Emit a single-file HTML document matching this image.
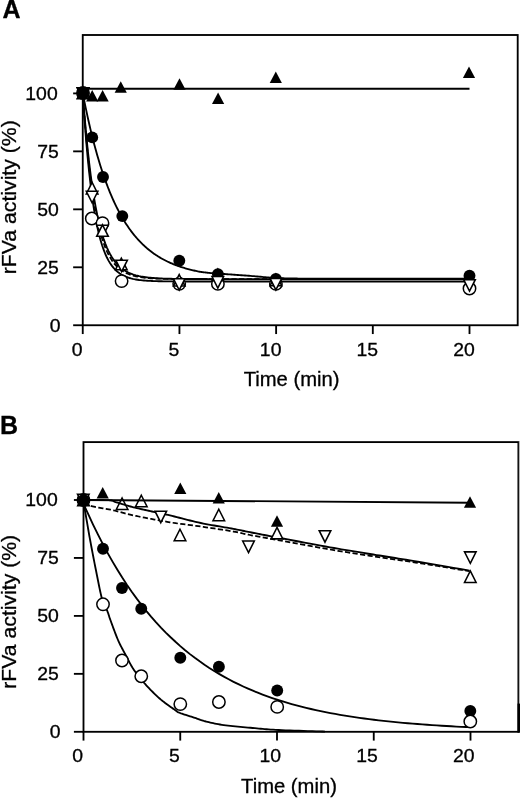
<!DOCTYPE html>
<html><head><meta charset="utf-8"><title>Figure</title>
<style>
html,body{margin:0;padding:0;background:#fff;}
body{width:520px;height:798px;overflow:hidden;}
svg{display:block;font-family:"Liberation Sans",sans-serif;fill:#000;filter:grayscale(1);}
text{stroke:#000;stroke-width:0.3px;}
</style></head><body>
<svg width="520" height="798" viewBox="0 0 520 798">
<rect width="520" height="798" fill="#fff"/>
<path d="M82.75,88.71 L84.36,88.71 L85.97,88.71 L87.58,88.71 L89.20,88.71 L90.81,88.71 L92.42,88.71 L94.03,88.71 L95.64,88.71 L97.25,88.71 L98.86,88.71 L100.48,88.71 L102.09,88.71 L103.70,88.71 L105.31,88.71 L106.92,88.71 L108.53,88.71 L110.14,88.71 L111.76,88.71 L113.37,88.71 L114.98,88.71 L116.59,88.71 L118.20,88.71 L119.81,88.71 L121.42,88.71 L123.04,88.71 L124.65,88.71 L126.26,88.71 L127.87,88.71 L129.48,88.71 L131.09,88.71 L132.71,88.71 L134.32,88.71 L135.93,88.71 L137.54,88.71 L139.15,88.71 L140.76,88.71 L142.37,88.71 L143.99,88.71 L145.60,88.71 L147.21,88.71 L148.82,88.71 L150.43,88.71 L152.04,88.71 L153.65,88.71 L155.27,88.71 L156.88,88.71 L158.49,88.71 L160.10,88.71 L161.71,88.71 L163.32,88.71 L164.93,88.71 L166.55,88.71 L168.16,88.71 L169.77,88.71 L171.38,88.71 L172.99,88.71 L174.60,88.71 L176.21,88.71 L177.83,88.71 L179.44,88.71 L181.05,88.71 L182.66,88.71 L184.27,88.71 L185.88,88.71 L187.49,88.71 L189.11,88.71 L190.72,88.71 L192.33,88.71 L193.94,88.71 L195.55,88.71 L197.16,88.71 L198.77,88.71 L200.39,88.71 L202.00,88.71 L203.61,88.71 L205.22,88.71 L206.83,88.71 L208.44,88.71 L210.06,88.71 L211.67,88.71 L213.28,88.71 L214.89,88.71 L216.50,88.71 L218.11,88.71 L219.72,88.71 L221.34,88.71 L222.95,88.71 L224.56,88.71 L226.17,88.71 L227.78,88.71 L229.39,88.71 L231.00,88.71 L232.62,88.71 L234.23,88.71 L235.84,88.71 L237.45,88.71 L239.06,88.71 L240.67,88.71 L242.28,88.71 L243.90,88.71 L245.51,88.71 L247.12,88.71 L248.73,88.71 L250.34,88.71 L251.95,88.71 L253.56,88.71 L255.18,88.71 L256.79,88.71 L258.40,88.71 L260.01,88.71 L261.62,88.71 L263.23,88.71 L264.84,88.71 L266.46,88.71 L268.07,88.71 L269.68,88.71 L271.29,88.71 L272.90,88.71 L274.51,88.71 L276.12,88.71 L277.74,88.71 L279.35,88.71 L280.96,88.71 L282.57,88.71 L284.18,88.71 L285.79,88.71 L287.41,88.71 L289.02,88.71 L290.63,88.71 L292.24,88.71 L293.85,88.71 L295.46,88.71 L297.07,88.71 L298.69,88.71 L300.30,88.71 L301.91,88.71 L303.52,88.71 L305.13,88.71 L306.74,88.71 L308.35,88.71 L309.97,88.71 L311.58,88.71 L313.19,88.71 L314.80,88.71 L316.41,88.71 L318.02,88.71 L319.63,88.71 L321.25,88.71 L322.86,88.71 L324.47,88.71 L326.08,88.71 L327.69,88.71 L329.30,88.71 L330.91,88.71 L332.53,88.71 L334.14,88.71 L335.75,88.71 L337.36,88.71 L338.97,88.71 L340.58,88.71 L342.19,88.71 L343.81,88.71 L345.42,88.71 L347.03,88.71 L348.64,88.71 L350.25,88.71 L351.86,88.71 L353.47,88.71 L355.09,88.71 L356.70,88.71 L358.31,88.71 L359.92,88.71 L361.53,88.71 L363.14,88.71 L364.76,88.71 L366.37,88.71 L367.98,88.71 L369.59,88.71 L371.20,88.71 L372.81,88.71 L374.42,88.71 L376.04,88.71 L377.65,88.71 L379.26,88.71 L380.87,88.71 L382.48,88.71 L384.09,88.71 L385.70,88.71 L387.32,88.71 L388.93,88.71 L390.54,88.71 L392.15,88.71 L393.76,88.71 L395.37,88.71 L396.98,88.71 L398.60,88.71 L400.21,88.71 L401.82,88.71 L403.43,88.71 L405.04,88.71 L406.65,88.71 L408.26,88.71 L409.88,88.71 L411.49,88.71 L413.10,88.71 L414.71,88.71 L416.32,88.71 L417.93,88.71 L419.54,88.71 L421.16,88.71 L422.77,88.71 L424.38,88.71 L425.99,88.71 L427.60,88.71 L429.21,88.71 L430.82,88.71 L432.44,88.71 L434.05,88.71 L435.66,88.71 L437.27,88.71 L438.88,88.71 L440.49,88.71 L442.11,88.71 L443.72,88.71 L445.33,88.71 L446.94,88.71 L448.55,88.71 L450.16,88.71 L451.77,88.71 L453.39,88.71 L455.00,88.71 L456.61,88.71 L458.22,88.71 L459.83,88.71 L461.44,88.71 L463.05,88.71 L464.67,88.71 L466.28,88.71 L467.89,88.71 L469.50,88.71" fill="none" stroke="#000" stroke-width="1.85" stroke-linejoin="round"/>
<path d="M82.75,93.00 L83.72,97.99 L84.68,102.84 L85.65,107.57 L86.62,112.17 L87.58,116.64 L88.55,120.99 L89.52,125.23 L90.48,129.35 L91.45,133.37 L92.42,137.27 L93.39,141.07 L94.35,144.77 L95.32,148.36 L96.29,151.87 L97.25,155.27 L98.22,158.59 L99.19,161.81 L100.15,164.95 L101.12,168.01 L102.09,170.98 L103.05,173.87 L104.02,176.69 L104.99,179.43 L105.95,182.10 L106.92,184.69 L107.89,187.21 L108.86,189.67 L109.82,192.06 L110.79,194.39 L111.76,196.65 L112.72,198.85 L113.69,201.00 L114.66,203.08 L115.62,205.11 L116.59,207.09 L117.56,209.01 L118.52,210.88 L119.49,212.70 L120.46,214.47 L121.42,216.20 L122.39,217.88 L123.36,219.51 L124.33,221.10 L125.29,222.64 L126.26,224.15 L127.23,225.61 L128.19,227.03 L129.16,228.42 L130.13,229.77 L131.09,231.08 L132.06,232.36 L133.03,233.60 L133.99,234.81 L134.96,235.99 L135.93,237.14 L136.90,238.25 L137.86,239.33 L138.83,240.39 L139.80,241.42 L140.76,242.42 L141.73,243.39 L142.70,244.34 L143.66,245.26 L144.63,246.15 L145.60,247.03 L146.56,247.87 L147.53,248.70 L148.50,249.50 L149.46,250.29 L150.43,251.05 L151.40,251.79 L152.37,252.51 L153.33,253.21 L154.30,253.89 L155.27,254.56 L156.23,255.20 L157.20,255.83 L158.17,256.44 L159.13,257.04 L160.10,257.62 L161.07,258.18 L162.03,258.73 L163.00,259.27 L163.97,259.79 L164.93,260.29 L165.90,260.78 L166.87,261.26 L167.83,261.73 L168.80,262.18 L169.77,262.62 L170.74,263.05 L171.70,263.47 L172.67,263.88 L173.64,264.27 L174.60,264.66 L175.57,265.03 L176.54,265.40 L177.50,265.75 L178.47,266.10 L179.44,266.43 L180.40,266.76 L181.37,267.08 L182.34,267.39 L183.31,267.69 L184.27,267.98 L185.24,268.27 L186.21,268.55 L187.17,268.82 L188.14,269.08 L189.11,269.34 L190.07,269.59 L191.04,269.83 L192.01,270.06 L192.97,270.29 L193.94,270.52 L194.91,270.73 L195.87,270.95 L196.84,271.15 L197.81,271.35 L198.77,271.55 L199.74,271.74 L200.71,271.92 L201.16,271.97 L201.74,272.04 L202.41,272.13 L203.17,272.22 L203.99,272.32 L204.86,272.42 L205.76,272.53 L206.66,272.64 L207.56,272.74 L208.42,272.84 L209.24,272.92 L210.00,273.00 L210.68,273.07 L211.32,273.12 L211.91,273.17 L212.47,273.22 L213.03,273.26 L213.59,273.30 L214.18,273.35 L214.79,273.39 L215.46,273.43 L216.19,273.48 L217.00,273.54 L217.90,273.60 L218.88,273.67 L219.92,273.74 L221.01,273.81 L222.15,273.88 L223.34,273.96 L224.57,274.04 L225.86,274.12 L227.19,274.21 L228.55,274.30 L229.96,274.39 L231.41,274.49 L232.90,274.60 L234.45,274.71 L236.09,274.83 L237.80,274.96 L239.56,275.09 L241.37,275.22 L243.20,275.36 L245.05,275.50 L246.90,275.64 L248.73,275.79 L250.53,275.93 L252.30,276.06 L254.00,276.20 L255.66,276.34 L257.31,276.48 L258.94,276.62 L260.56,276.77 L262.17,276.92 L263.76,277.06 L265.33,277.20 L266.89,277.34 L268.44,277.47 L269.97,277.59 L271.49,277.70 L273.00,277.80 L274.45,277.89 L275.80,277.96 L277.09,278.03 L278.33,278.09 L279.57,278.14 L280.81,278.19 L282.10,278.23 L283.44,278.27 L284.88,278.30 L286.44,278.33 L288.13,278.37 L290.00,278.40 L291.66,278.43 L292.86,278.46 L293.79,278.48 L294.61,278.50 L295.53,278.52 L296.72,278.54 L298.37,278.55 L300.67,278.56 L303.79,278.57 L307.93,278.58 L313.27,278.59 L320.00,278.60 L328.75,278.61 L339.73,278.61 L352.48,278.61 L366.52,278.61 L381.39,278.61 L396.62,278.61 L411.76,278.61 L426.31,278.61 L439.84,278.60 L451.85,278.60 L461.90,278.60 L469.50,278.60" fill="none" stroke="#000" stroke-width="1.85" stroke-linejoin="round"/>
<path d="M82.75,93.00 L84.36,113.76 L85.97,132.21 L87.58,148.60 L89.20,163.16 L90.81,176.10 L92.42,187.59 L94.03,197.80 L95.64,206.87 L97.25,214.92 L98.86,222.08 L100.48,228.44 L102.09,234.09 L103.70,239.11 L105.31,243.57 L106.92,247.53 L108.53,251.05 L110.14,254.18 L111.76,256.95 L113.37,259.42 L114.98,261.61 L116.59,263.56 L118.20,265.29 L119.81,266.83 L121.42,268.19 L123.04,269.41 L124.65,270.48 L126.26,271.44 L127.87,272.29 L129.48,273.05 L131.09,273.72 L132.71,274.32 L134.32,274.85 L135.93,275.32 L137.54,275.73 L139.15,276.11 L140.76,276.44 L142.37,276.73 L143.99,276.99 L145.60,277.22 L147.21,277.43 L148.82,277.61 L150.43,277.77 L152.04,277.92 L153.65,278.04 L155.27,278.16 L156.88,278.26 L158.49,278.35 L160.10,278.43 L161.71,278.50 L163.32,278.56 L164.93,278.62 L166.55,278.67 L168.16,278.71 L169.77,278.75 L171.38,278.79 L172.99,278.82 L174.60,278.85 L176.21,278.87 L177.83,278.89 L179.44,278.91 L181.05,278.93 L182.66,278.94 L184.27,278.96 L185.88,278.97 L187.49,278.98 L189.11,278.99 L190.72,279.00 L192.33,279.00 L193.94,279.01 L195.55,279.02 L197.16,279.02 L198.77,279.03 L200.39,279.03 L202.00,279.03 L203.61,279.04 L205.22,279.04 L206.83,279.04 L208.44,279.05 L210.06,279.05 L211.67,279.05 L213.28,279.05 L214.89,279.05 L216.50,279.05 L218.11,279.06 L219.72,279.06 L221.34,279.06 L222.95,279.06 L224.56,279.06 L226.17,279.06 L227.78,279.06 L229.39,279.06 L231.00,279.06 L232.62,279.06 L234.23,279.06 L235.84,279.06 L237.45,279.06 L239.06,279.06 L240.67,279.06 L242.28,279.06 L243.90,279.06 L245.51,279.06 L247.12,279.06 L248.73,279.06 L250.34,279.06 L251.95,279.06 L253.56,279.06 L255.18,279.06 L256.79,279.06 L258.40,279.06 L260.01,279.06 L261.62,279.06 L263.23,279.06 L264.84,279.06 L266.46,279.06 L268.07,279.06 L269.68,279.06 L271.29,279.06 L272.90,279.06 L274.51,279.06 L276.12,279.06 L277.74,279.06 L279.35,279.06 L280.96,279.06 L282.57,279.06 L284.18,279.06 L285.79,279.06 L287.41,279.06 L289.02,279.06 L290.63,279.06 L292.24,279.06 L293.85,279.06 L295.46,279.06 L297.07,279.06 L298.69,279.06 L300.30,279.06 L301.91,279.06 L303.52,279.06 L305.13,279.06 L306.74,279.06 L308.35,279.06 L309.97,279.06 L311.58,279.06 L313.19,279.06 L314.80,279.06 L316.41,279.06 L318.02,279.06 L319.63,279.06 L321.25,279.06 L322.86,279.06 L324.47,279.06 L326.08,279.06 L327.69,279.06 L329.30,279.06 L330.91,279.06 L332.53,279.06 L334.14,279.06 L335.75,279.06 L337.36,279.06 L338.97,279.06 L340.58,279.06 L342.19,279.06 L343.81,279.06 L345.42,279.06 L347.03,279.06 L348.64,279.06 L350.25,279.06 L351.86,279.06 L353.47,279.06 L355.09,279.06 L356.70,279.06 L358.31,279.06 L359.92,279.06 L361.53,279.06 L363.14,279.06 L364.76,279.06 L366.37,279.06 L367.98,279.06 L369.59,279.06 L371.20,279.06 L372.81,279.06 L374.42,279.06 L376.04,279.06 L377.65,279.06 L379.26,279.06 L380.87,279.06 L382.48,279.06 L384.09,279.06 L385.70,279.06 L387.32,279.06 L388.93,279.06 L390.54,279.06 L392.15,279.06 L393.76,279.06 L395.37,279.06 L396.98,279.06 L398.60,279.06 L400.21,279.06 L401.82,279.06 L403.43,279.06 L405.04,279.06 L406.65,279.06 L408.26,279.06 L409.88,279.06 L411.49,279.06 L413.10,279.06 L414.71,279.06 L416.32,279.06 L417.93,279.06 L419.54,279.06 L421.16,279.06 L422.77,279.06 L424.38,279.06 L425.99,279.06 L427.60,279.06 L429.21,279.06 L430.82,279.06 L432.44,279.06 L434.05,279.06 L435.66,279.06 L437.27,279.06 L438.88,279.06 L440.49,279.06 L442.11,279.06 L443.72,279.06 L445.33,279.06 L446.94,279.06 L448.55,279.06 L450.16,279.06 L451.77,279.06 L453.39,279.06 L455.00,279.06 L456.61,279.06 L458.22,279.06 L459.83,279.06 L461.44,279.06 L463.05,279.06 L464.67,279.06 L466.28,279.06 L467.89,279.06 L469.50,279.06" fill="none" stroke="#000" stroke-width="1.85" stroke-linejoin="round"/>
<path d="M82.75,93.00 L84.36,117.22 L85.97,138.32 L87.58,156.71 L89.20,172.74 L90.81,186.72 L92.42,198.89 L94.03,209.50 L95.64,218.75 L97.25,226.81 L98.86,233.84 L100.48,239.96 L102.09,245.30 L103.70,249.95 L105.31,254.00 L106.92,257.53 L108.53,260.61 L110.14,263.30 L111.76,265.64 L113.37,267.67 L114.98,269.45 L116.59,271.00 L118.20,272.35 L119.81,273.52 L121.42,274.55 L123.04,275.44 L124.65,276.22 L126.26,276.90 L127.87,277.49 L129.48,278.00 L131.09,278.45 L132.71,278.84 L134.32,279.19 L135.93,279.48 L137.54,279.74 L139.15,279.97 L140.76,280.16 L142.37,280.34 L143.99,280.49 L145.60,280.62 L147.21,280.73 L148.82,280.83 L150.43,280.91 L152.04,280.99 L153.65,281.06 L155.27,281.11 L156.88,281.16 L158.49,281.21 L160.10,281.24 L161.71,281.28 L163.32,281.31 L164.93,281.33 L166.55,281.35 L168.16,281.37 L169.77,281.39 L171.38,281.40 L172.99,281.41 L174.60,281.43 L176.21,281.44 L177.83,281.44 L179.44,281.45 L181.05,281.46 L182.66,281.46 L184.27,281.47 L185.88,281.47 L187.49,281.48 L189.11,281.48 L190.72,281.48 L192.33,281.48 L193.94,281.49 L195.55,281.49 L197.16,281.49 L198.77,281.49 L200.39,281.49 L202.00,281.49 L203.61,281.49 L205.22,281.49 L206.83,281.50 L208.44,281.50 L210.06,281.50 L211.67,281.50 L213.28,281.50 L214.89,281.50 L216.50,281.50 L218.11,281.50 L219.72,281.50 L221.34,281.50 L222.95,281.50 L224.56,281.50 L226.17,281.50 L227.78,281.50 L229.39,281.50 L231.00,281.50 L232.62,281.50 L234.23,281.50 L235.84,281.50 L237.45,281.50 L239.06,281.50 L240.67,281.50 L242.28,281.50 L243.90,281.50 L245.51,281.50 L247.12,281.50 L248.73,281.50 L250.34,281.50 L251.95,281.50 L253.56,281.50 L255.18,281.50 L256.79,281.50 L258.40,281.50 L260.01,281.50 L261.62,281.50 L263.23,281.50 L264.84,281.50 L266.46,281.50 L268.07,281.50 L269.68,281.50 L271.29,281.50 L272.90,281.50 L274.51,281.50 L276.12,281.50 L277.74,281.50 L279.35,281.50 L280.96,281.50 L282.57,281.50 L284.18,281.50 L285.79,281.50 L287.41,281.50 L289.02,281.50 L290.63,281.50 L292.24,281.50 L293.85,281.50 L295.46,281.50 L297.07,281.50 L298.69,281.50 L300.30,281.50 L301.91,281.50 L303.52,281.50 L305.13,281.50 L306.74,281.50 L308.35,281.50 L309.97,281.50 L311.58,281.50 L313.19,281.50 L314.80,281.50 L316.41,281.50 L318.02,281.50 L319.63,281.50 L321.25,281.50 L322.86,281.50 L324.47,281.50 L326.08,281.50 L327.69,281.50 L329.30,281.50 L330.91,281.50 L332.53,281.50 L334.14,281.50 L335.75,281.50 L337.36,281.50 L338.97,281.50 L340.58,281.50 L342.19,281.50 L343.81,281.50 L345.42,281.50 L347.03,281.50 L348.64,281.50 L350.25,281.50 L351.86,281.50 L353.47,281.50 L355.09,281.50 L356.70,281.50 L358.31,281.50 L359.92,281.50 L361.53,281.50 L363.14,281.50 L364.76,281.50 L366.37,281.50 L367.98,281.50 L369.59,281.50 L371.20,281.50 L372.81,281.50 L374.42,281.50 L376.04,281.50 L377.65,281.50 L379.26,281.50 L380.87,281.50 L382.48,281.50 L384.09,281.50 L385.70,281.50 L387.32,281.50 L388.93,281.50 L390.54,281.50 L392.15,281.50 L393.76,281.50 L395.37,281.50 L396.98,281.50 L398.60,281.50 L400.21,281.50 L401.82,281.50 L403.43,281.50 L405.04,281.50 L406.65,281.50 L408.26,281.50 L409.88,281.50 L411.49,281.50 L413.10,281.50 L414.71,281.50 L416.32,281.50 L417.93,281.50 L419.54,281.50 L421.16,281.50 L422.77,281.50 L424.38,281.50 L425.99,281.50 L427.60,281.50 L429.21,281.50 L430.82,281.50 L432.44,281.50 L434.05,281.50 L435.66,281.50 L437.27,281.50 L438.88,281.50 L440.49,281.50 L442.11,281.50 L443.72,281.50 L445.33,281.50 L446.94,281.50 L448.55,281.50 L450.16,281.50 L451.77,281.50 L453.39,281.50 L455.00,281.50 L456.61,281.50 L458.22,281.50 L459.83,281.50 L461.44,281.50 L463.05,281.50 L464.67,281.50 L466.28,281.50 L467.89,281.50 L469.50,281.50" fill="none" stroke="#000" stroke-width="1.85" stroke-linejoin="round"/>
<path d="M82.75,93.00 L84.36,115.15 L85.97,134.67 L87.58,151.86 L89.20,167.01 L90.81,180.35 L92.42,192.11 L94.03,202.47 L95.64,211.60 L97.25,219.64 L98.86,226.72 L100.48,232.96 L102.09,238.46 L103.70,243.30 L105.31,247.57 L106.92,251.33 L108.53,254.65 L110.14,257.57 L111.76,260.14 L113.37,262.40 L114.98,264.40 L116.59,266.16 L118.20,267.71 L119.81,269.07 L121.42,270.27 L123.04,271.33 L124.65,272.27 L126.26,273.09 L127.87,273.81 L129.48,274.45 L131.09,275.02 L132.71,275.51 L134.32,275.95 L135.93,276.33 L137.54,276.67 L139.15,276.97 L140.76,277.23 L142.37,277.46 L143.99,277.67 L145.60,277.85 L147.21,278.01 L148.82,278.15 L150.43,278.27 L152.04,278.38 L153.65,278.47 L155.27,278.56 L156.88,278.63 L158.49,278.70 L160.10,278.75 L161.71,278.80 L163.32,278.85 L164.93,278.89 L166.55,278.92 L168.16,278.95 L169.77,278.98 L171.38,279.00 L172.99,279.03 L174.60,279.04 L176.21,279.06 L177.83,279.07 L179.44,279.09 L181.05,279.10 L182.66,279.11 L184.27,279.12 L185.88,279.12 L187.49,279.13 L189.11,279.14 L190.72,279.14 L192.33,279.15 L193.94,279.15 L195.55,279.15 L197.16,279.16 L198.77,279.16 L200.39,279.16 L202.00,279.16 L203.61,279.17 L205.22,279.17 L206.83,279.17 L208.44,279.17 L210.06,279.17 L211.67,279.17 L213.28,279.17 L214.89,279.17 L216.50,279.17 L218.11,279.18 L219.72,279.18 L221.34,279.18 L222.95,279.18 L224.56,279.18 L226.17,279.18 L227.78,279.18 L229.39,279.18 L231.00,279.18 L232.62,279.18 L234.23,279.18 L235.84,279.18 L237.45,279.18 L239.06,279.18 L240.67,279.18 L242.28,279.18 L243.90,279.18 L245.51,279.18 L247.12,279.18 L248.73,279.18 L250.34,279.18 L251.95,279.18 L253.56,279.18 L255.18,279.18 L256.79,279.18 L258.40,279.18 L260.01,279.18 L261.62,279.18 L263.23,279.18 L264.84,279.18 L266.46,279.18 L268.07,279.18 L269.68,279.18 L271.29,279.18 L272.90,279.18 L274.51,279.18 L276.12,279.18 L277.74,279.18 L279.35,279.18 L280.96,279.18 L282.57,279.18 L284.18,279.18 L285.79,279.18 L287.41,279.18 L289.02,279.18 L290.63,279.18 L292.24,279.18 L293.85,279.18 L295.46,279.18 L297.07,279.18 L298.69,279.18 L300.30,279.18 L301.91,279.18 L303.52,279.18 L305.13,279.18 L306.74,279.18 L308.35,279.18 L309.97,279.18 L311.58,279.18 L313.19,279.18 L314.80,279.18 L316.41,279.18 L318.02,279.18 L319.63,279.18 L321.25,279.18 L322.86,279.18 L324.47,279.18 L326.08,279.18 L327.69,279.18 L329.30,279.18 L330.91,279.18 L332.53,279.18 L334.14,279.18 L335.75,279.18 L337.36,279.18 L338.97,279.18 L340.58,279.18 L342.19,279.18 L343.81,279.18 L345.42,279.18 L347.03,279.18 L348.64,279.18 L350.25,279.18 L351.86,279.18 L353.47,279.18 L355.09,279.18 L356.70,279.18 L358.31,279.18 L359.92,279.18 L361.53,279.18 L363.14,279.18 L364.76,279.18 L366.37,279.18 L367.98,279.18 L369.59,279.18 L371.20,279.18 L372.81,279.18 L374.42,279.18 L376.04,279.18 L377.65,279.18 L379.26,279.18 L380.87,279.18 L382.48,279.18 L384.09,279.18 L385.70,279.18 L387.32,279.18 L388.93,279.18 L390.54,279.18 L392.15,279.18 L393.76,279.18 L395.37,279.18 L396.98,279.18 L398.60,279.18 L400.21,279.18 L401.82,279.18 L403.43,279.18 L405.04,279.18 L406.65,279.18 L408.26,279.18 L409.88,279.18 L411.49,279.18 L413.10,279.18 L414.71,279.18 L416.32,279.18 L417.93,279.18 L419.54,279.18 L421.16,279.18 L422.77,279.18 L424.38,279.18 L425.99,279.18 L427.60,279.18 L429.21,279.18 L430.82,279.18 L432.44,279.18 L434.05,279.18 L435.66,279.18 L437.27,279.18 L438.88,279.18 L440.49,279.18 L442.11,279.18 L443.72,279.18 L445.33,279.18 L446.94,279.18 L448.55,279.18 L450.16,279.18 L451.77,279.18 L453.39,279.18 L455.00,279.18 L456.61,279.18 L458.22,279.18 L459.83,279.18 L461.44,279.18 L463.05,279.18 L464.67,279.18 L466.28,279.18 L467.89,279.18 L469.50,279.18" fill="none" stroke="#000" stroke-width="1.75" stroke-dasharray="5.2 2.4" stroke-linejoin="round"/>
<rect x="82.75" y="35" width="434.95000000000005" height="290.25" fill="none" stroke="#000" stroke-width="1.85"/>
<line x1="73.15" x2="82.75" y1="325.25" y2="325.25" stroke="#000" stroke-width="1.85"/>
<text transform="translate(60.6 331.95) scale(1.072 1)" font-size="18.1" text-anchor="end" font-weight="normal">0</text>
<line x1="73.15" x2="82.75" y1="267.29" y2="267.29" stroke="#000" stroke-width="1.85"/>
<text transform="translate(58.9 273.99) scale(1.072 1)" font-size="18.1" text-anchor="end" font-weight="normal">25</text>
<line x1="73.15" x2="82.75" y1="209.33" y2="209.33" stroke="#000" stroke-width="1.85"/>
<text transform="translate(58.9 216.03) scale(1.072 1)" font-size="18.1" text-anchor="end" font-weight="normal">50</text>
<line x1="73.15" x2="82.75" y1="151.36" y2="151.36" stroke="#000" stroke-width="1.85"/>
<text transform="translate(58.9 158.06) scale(1.072 1)" font-size="18.1" text-anchor="end" font-weight="normal">75</text>
<line x1="73.15" x2="82.75" y1="93.40" y2="93.40" stroke="#000" stroke-width="1.85"/>
<text transform="translate(57.7 100.1) scale(1.072 1)" font-size="18.1" text-anchor="end" font-weight="normal">100</text>
<line y1="325.25" y2="334.05" x1="82.75" x2="82.75" stroke="#000" stroke-width="1.85"/>
<text transform="translate(77.25 356.25) scale(1.072 1)" font-size="18.1" text-anchor="middle" font-weight="normal">0</text>
<line y1="325.25" y2="334.05" x1="179.44" x2="179.44" stroke="#000" stroke-width="1.85"/>
<text transform="translate(173.94 356.25) scale(1.072 1)" font-size="18.1" text-anchor="middle" font-weight="normal">5</text>
<line y1="325.25" y2="334.05" x1="276.12" x2="276.12" stroke="#000" stroke-width="1.85"/>
<text transform="translate(270.62 356.25) scale(1.072 1)" font-size="18.1" text-anchor="middle" font-weight="normal">10</text>
<line y1="325.25" y2="334.05" x1="372.81" x2="372.81" stroke="#000" stroke-width="1.85"/>
<text transform="translate(367.31 356.25) scale(1.072 1)" font-size="18.1" text-anchor="middle" font-weight="normal">15</text>
<line y1="325.25" y2="334.05" x1="469.50" x2="469.50" stroke="#000" stroke-width="1.85"/>
<text transform="translate(464.0 356.25) scale(1.072 1)" font-size="18.1" text-anchor="middle" font-weight="normal">20</text>
<text transform="translate(291.59999999999997 386.25) scale(1.048 1)" font-size="19.3" text-anchor="middle" font-weight="normal">Time (min)</text>
<text transform="translate(16.1 197.25) rotate(-90) scale(1.083 1)" font-size="19.6" text-anchor="middle" font-weight="normal">rFVa activity (%)</text>
<text transform="translate(2.4 18.2) scale(1.0 1)" font-size="25" text-anchor="start" font-weight="bold">A</text>
<circle cx="83.00" cy="93.00" r="6.2" fill="#fff" stroke="#000" stroke-width="1.5"/>
<circle cx="91.80" cy="218.50" r="6.2" fill="#fff" stroke="#000" stroke-width="1.5"/>
<circle cx="102.50" cy="223.10" r="6.2" fill="#fff" stroke="#000" stroke-width="1.5"/>
<circle cx="121.60" cy="281.10" r="6.2" fill="#fff" stroke="#000" stroke-width="1.5"/>
<circle cx="179.20" cy="283.80" r="6.2" fill="#fff" stroke="#000" stroke-width="1.5"/>
<circle cx="217.90" cy="283.90" r="6.2" fill="#fff" stroke="#000" stroke-width="1.5"/>
<circle cx="275.90" cy="283.90" r="6.2" fill="#fff" stroke="#000" stroke-width="1.5"/>
<circle cx="469.50" cy="288.50" r="6.2" fill="#fff" stroke="#000" stroke-width="1.5"/>
<polygon points="83.00,87.25 88.80,98.75 77.20,98.75" fill="#fff" stroke="#000" stroke-width="1.55" stroke-miterlimit="10"/>
<polygon points="92.10,182.45 97.90,193.95 86.30,193.95" fill="#fff" stroke="#000" stroke-width="1.55" stroke-miterlimit="10"/>
<polygon points="121.30,258.15 127.10,269.65 115.50,269.65" fill="#fff" stroke="#000" stroke-width="1.55" stroke-miterlimit="10"/>
<polygon points="179.20,274.55 185.00,286.05 173.40,286.05" fill="#fff" stroke="#000" stroke-width="1.55" stroke-miterlimit="10"/>
<polygon points="217.80,269.15 223.60,280.65 212.00,280.65" fill="#fff" stroke="#000" stroke-width="1.55" stroke-miterlimit="10"/>
<polygon points="275.90,274.15 281.70,285.65 270.10,285.65" fill="#fff" stroke="#000" stroke-width="1.55" stroke-miterlimit="10"/>
<circle cx="83.00" cy="93.00" r="5.95" fill="#000"/>
<circle cx="92.20" cy="137.40" r="5.95" fill="#000"/>
<circle cx="103.00" cy="177.00" r="5.95" fill="#000"/>
<circle cx="122.30" cy="216.10" r="5.95" fill="#000"/>
<circle cx="179.30" cy="260.80" r="5.95" fill="#000"/>
<circle cx="217.90" cy="274.10" r="5.95" fill="#000"/>
<circle cx="275.90" cy="279.00" r="5.95" fill="#000"/>
<circle cx="469.50" cy="275.70" r="5.95" fill="#000"/>
<polygon points="83.00,99.20 88.80,87.70 77.20,87.70" fill="#fff" stroke="#000" stroke-width="1.55" stroke-miterlimit="10"/>
<polygon points="92.10,202.75 97.90,191.25 86.30,191.25" fill="#fff" stroke="#000" stroke-width="1.55" stroke-miterlimit="10"/>
<polygon points="102.50,236.80 108.30,225.30 96.70,225.30" fill="#fff" stroke="#000" stroke-width="1.55" stroke-miterlimit="10"/>
<polygon points="121.60,271.65 127.40,260.15 115.80,260.15" fill="#fff" stroke="#000" stroke-width="1.55" stroke-miterlimit="10"/>
<polygon points="179.20,290.15 185.00,278.65 173.40,278.65" fill="#fff" stroke="#000" stroke-width="1.55" stroke-miterlimit="10"/>
<polygon points="217.80,288.05 223.60,276.55 212.00,276.55" fill="#fff" stroke="#000" stroke-width="1.55" stroke-miterlimit="10"/>
<polygon points="275.90,289.95 281.70,278.45 270.10,278.45" fill="#fff" stroke="#000" stroke-width="1.55" stroke-miterlimit="10"/>
<polygon points="469.50,291.15 475.30,279.65 463.70,279.65" fill="#fff" stroke="#000" stroke-width="1.55" stroke-miterlimit="10"/>
<polygon points="102.50,224.80 108.30,236.30 96.70,236.30" fill="#fff" stroke="#000" stroke-width="1.55" stroke-miterlimit="10"/>
<polygon points="83.00,99.20 88.80,87.70 77.20,87.70" fill="#000" stroke="#000" stroke-width="1.55" stroke-miterlimit="10"/>
<circle cx="83.00" cy="93.00" r="5.95" fill="#000"/>
<polygon points="82.60,87.55 88.70,99.05 76.50,99.05" fill="#000"/>
<polygon points="92.20,89.95 98.30,101.45 86.10,101.45" fill="#000"/>
<polygon points="102.60,89.95 108.70,101.45 96.50,101.45" fill="#000"/>
<polygon points="120.75,81.15 126.85,92.65 114.65,92.65" fill="#000"/>
<polygon points="179.50,78.35 185.60,89.85 173.40,89.85" fill="#000"/>
<polygon points="218.10,92.50 224.20,104.00 212.00,104.00" fill="#000"/>
<polygon points="275.80,71.55 281.90,83.05 269.70,83.05" fill="#000"/>
<polygon points="469.00,66.50 475.10,78.00 462.90,78.00" fill="#000"/>
<polygon points="122.10,498.00 127.90,509.50 116.30,509.50" fill="#fff" stroke="#000" stroke-width="1.55" stroke-miterlimit="10"/>
<polygon points="141.30,495.25 147.10,506.75 135.50,506.75" fill="#fff" stroke="#000" stroke-width="1.55" stroke-miterlimit="10"/>
<path d="M83.50,500.00 L470.00,502.70" fill="none" stroke="#000" stroke-width="1.85" stroke-linejoin="round"/>
<path d="M83.50,500.00 L84.78,500.00 L86.46,500.00 L88.46,499.99 L90.71,499.98 L93.14,499.97 L95.67,499.97 L98.22,499.97 L100.73,499.99 L103.12,500.01 L105.31,500.05 L107.23,500.12 L108.80,500.20 L110.03,500.30 L111.01,500.41 L111.78,500.53 L112.38,500.67 L112.86,500.81 L113.26,500.97 L113.63,501.15 L114.01,501.34 L114.44,501.55 L114.97,501.78 L115.64,502.03 L116.50,502.30 L117.50,502.60 L118.58,502.92 L119.72,503.27 L120.92,503.65 L122.18,504.04 L123.48,504.44 L124.83,504.86 L126.21,505.27 L127.63,505.69 L129.07,506.10 L130.53,506.51 L132.00,506.90 L133.52,507.29 L135.10,507.67 L136.73,508.07 L138.41,508.46 L140.12,508.85 L141.84,509.24 L143.58,509.63 L145.31,510.02 L147.04,510.40 L148.73,510.77 L150.39,511.14 L152.00,511.50 L153.53,511.84 L154.97,512.15 L156.34,512.44 L157.67,512.71 L158.99,512.99 L160.33,513.26 L161.69,513.55 L163.13,513.85 L164.65,514.18 L166.28,514.54 L168.06,514.95 L170.00,515.40 L172.12,515.91 L174.39,516.48 L176.80,517.09 L179.32,517.74 L181.93,518.41 L184.61,519.10 L187.33,519.79 L190.07,520.49 L192.81,521.16 L195.52,521.81 L198.20,522.43 L200.80,523.00 L203.40,523.54 L206.06,524.06 L208.77,524.56 L211.49,525.06 L214.22,525.53 L216.92,525.99 L219.58,526.44 L222.17,526.88 L224.69,527.30 L227.09,527.71 L229.37,528.11 L231.50,528.50 L233.46,528.87 L235.27,529.22 L236.95,529.55 L238.51,529.86 L240.00,530.16 L241.42,530.45 L242.80,530.74 L244.17,531.02 L245.56,531.30 L246.97,531.59 L248.44,531.89 L250.00,532.20 L251.49,532.49 L252.78,532.75 L253.96,532.99 L255.07,533.21 L256.20,533.44 L257.41,533.68 L258.76,533.95 L260.31,534.25 L262.15,534.61 L264.33,535.03 L266.93,535.52 L270.00,536.10 L273.66,536.79 L277.92,537.60 L282.66,538.49 L287.78,539.46 L293.18,540.48 L298.75,541.53 L304.39,542.58 L310.00,543.63 L315.47,544.65 L320.69,545.61 L325.57,546.50 L330.00,547.30 L334.03,548.02 L337.82,548.68 L341.41,549.30 L344.81,549.88 L348.08,550.43 L351.25,550.95 L354.35,551.46 L357.41,551.96 L360.47,552.45 L363.56,552.95 L366.73,553.47 L370.00,554.00 L373.27,554.53 L376.44,555.04 L379.54,555.53 L382.61,556.01 L385.68,556.50 L388.78,556.98 L391.95,557.48 L395.22,558.00 L398.63,558.54 L402.20,559.12 L405.98,559.73 L410.00,560.40 L414.46,561.15 L419.48,562.00 L424.90,562.92 L430.59,563.90 L436.42,564.90 L442.25,565.90 L447.94,566.88 L453.35,567.81 L458.35,568.68 L462.80,569.45 L466.56,570.10 L469.50,570.60" fill="none" stroke="#000" stroke-width="1.85" stroke-linejoin="round"/>
<path d="M83.50,504.00 L84.04,504.14 L84.69,504.31 L85.44,504.52 L86.28,504.74 L87.20,504.99 L88.19,505.26 L89.24,505.53 L90.33,505.81 L91.47,506.09 L92.63,506.37 L93.81,506.64 L95.00,506.90 L96.21,507.14 L97.46,507.38 L98.76,507.61 L100.09,507.83 L101.47,508.06 L102.88,508.29 L104.32,508.54 L105.80,508.79 L107.30,509.06 L108.84,509.35 L110.41,509.66 L112.00,510.00 L113.59,510.36 L115.15,510.75 L116.71,511.15 L118.28,511.57 L119.88,512.01 L121.53,512.46 L123.25,512.93 L125.06,513.40 L126.96,513.89 L129.00,514.39 L131.17,514.89 L133.50,515.40 L136.03,515.93 L138.78,516.49 L141.70,517.08 L144.77,517.69 L147.93,518.31 L151.17,518.92 L154.44,519.54 L157.70,520.14 L160.92,520.73 L164.07,521.29 L167.11,521.81 L170.00,522.30 L172.77,522.74 L175.46,523.15 L178.10,523.53 L180.69,523.88 L183.24,524.22 L185.76,524.54 L188.26,524.85 L190.75,525.16 L193.24,525.48 L195.74,525.80 L198.25,526.14 L200.80,526.50 L203.40,526.88 L206.06,527.26 L208.77,527.66 L211.49,528.06 L214.22,528.47 L216.92,528.88 L219.58,529.28 L222.17,529.68 L224.69,530.08 L227.09,530.46 L229.37,530.84 L231.50,531.20 L233.46,531.55 L235.27,531.89 L236.95,532.22 L238.51,532.54 L240.00,532.86 L241.42,533.17 L242.80,533.48 L244.17,533.78 L245.56,534.09 L246.97,534.39 L248.44,534.69 L250.00,535.00 L251.49,535.28 L252.78,535.53 L253.96,535.74 L255.07,535.94 L256.20,536.14 L257.41,536.36 L258.76,536.59 L260.31,536.87 L262.15,537.19 L264.33,537.58 L266.93,538.05 L270.00,538.60 L273.66,539.27 L277.92,540.05 L282.66,540.92 L287.78,541.86 L293.18,542.86 L298.75,543.88 L304.39,544.91 L310.00,545.94 L315.47,546.93 L320.69,547.87 L325.57,548.73 L330.00,549.50 L334.03,550.19 L337.82,550.82 L341.41,551.41 L344.81,551.96 L348.08,552.47 L351.25,552.96 L354.35,553.44 L357.41,553.90 L360.47,554.36 L363.56,554.83 L366.73,555.30 L370.00,555.80 L373.37,556.31 L376.78,556.82 L380.23,557.33 L383.70,557.84 L387.17,558.35 L390.62,558.85 L394.04,559.35 L397.41,559.84 L400.70,560.32 L403.91,560.79 L407.02,561.25 L410.00,561.70 L412.85,562.13 L415.58,562.55 L418.21,562.96 L420.76,563.35 L423.23,563.74 L425.66,564.12 L428.04,564.50 L430.41,564.87 L432.77,565.25 L435.14,565.62 L437.55,566.01 L440.00,566.40 L442.57,566.81 L445.29,567.25 L448.10,567.71 L450.96,568.17 L453.82,568.64 L456.62,569.09 L459.32,569.54 L461.87,569.95 L464.21,570.34 L466.30,570.68 L468.08,570.97 L469.50,571.20" fill="none" stroke="#000" stroke-width="1.75" stroke-dasharray="5.2 2.4" stroke-linejoin="round"/>
<path d="M83.50,504.00 L88.34,514.40 L93.18,524.79 L98.02,534.69 L102.86,544.12 L107.70,553.09 L112.54,561.64 L117.38,569.77 L122.22,577.52 L127.06,584.90 L131.90,591.92 L136.74,598.61 L141.58,604.98 L146.42,611.05 L151.26,616.82 L156.10,622.32 L160.94,627.55 L165.78,632.54 L170.62,637.28 L175.46,641.80 L180.30,646.11 L185.14,650.21 L189.98,654.11 L194.82,657.82 L199.66,661.36 L204.50,664.73 L209.34,667.94 L214.18,670.99 L219.02,673.90 L223.86,676.67 L228.70,679.30 L233.54,681.81 L238.38,684.20 L243.22,686.48 L248.06,688.65 L252.90,690.71 L257.74,692.68 L262.58,694.55 L267.42,696.33 L272.26,698.02 L277.10,699.64 L281.94,701.18 L286.78,702.64 L291.62,704.04 L296.46,705.36 L301.30,706.63 L306.14,707.83 L310.98,708.98 L315.82,710.07 L320.66,711.11 L325.50,712.10 L330.34,713.04 L335.18,713.94 L340.02,714.79 L344.86,715.60 L349.70,716.38 L354.54,717.12 L359.38,717.82 L364.22,718.49 L369.06,719.12 L373.90,719.73 L378.74,720.31 L383.58,720.86 L388.42,721.38 L393.26,721.88 L398.10,722.35 L402.94,722.80 L407.78,723.23 L412.62,723.64 L417.46,724.03 L422.30,724.41 L427.14,724.76 L431.98,725.10 L436.82,725.42 L441.66,725.72 L446.50,726.01 L451.34,726.29 L456.18,726.55 L461.02,726.80 L465.86,727.04 L470.00,727.20" fill="none" stroke="#000" stroke-width="1.85" stroke-linejoin="round"/>
<path d="M83.50,502.00 L83.66,502.91 L83.86,504.06 L84.09,505.39 L84.35,506.89 L84.63,508.52 L84.93,510.25 L85.24,512.05 L85.56,513.89 L85.88,515.73 L86.20,517.56 L86.51,519.32 L86.80,521.00 L87.08,522.60 L87.34,524.15 L87.60,525.68 L87.86,527.20 L88.12,528.73 L88.39,530.28 L88.66,531.87 L88.95,533.52 L89.25,535.24 L89.58,537.05 L89.92,538.96 L90.30,541.00 L90.71,543.18 L91.14,545.51 L91.61,547.95 L92.09,550.49 L92.59,553.11 L93.10,555.77 L93.62,558.46 L94.14,561.15 L94.67,563.83 L95.19,566.46 L95.70,569.02 L96.20,571.50 L96.69,573.96 L97.19,576.46 L97.69,578.98 L98.19,581.51 L98.68,584.02 L99.18,586.49 L99.68,588.89 L100.17,591.21 L100.66,593.42 L101.15,595.51 L101.63,597.44 L102.10,599.20 L102.58,600.78 L103.06,602.19 L103.54,603.45 L104.03,604.58 L104.51,605.61 L104.99,606.55 L105.45,607.42 L105.90,608.25 L106.34,609.05 L106.75,609.85 L107.14,610.66 L107.50,611.50 L107.81,612.30 L108.07,613.00 L108.29,613.62 L108.48,614.19 L108.65,614.73 L108.81,615.27 L108.99,615.84 L109.18,616.46 L109.40,617.16 L109.67,617.96 L110.00,618.90 L110.40,620.00 L110.87,621.28 L111.40,622.74 L111.98,624.34 L112.61,626.04 L113.26,627.83 L113.94,629.67 L114.64,631.52 L115.34,633.37 L116.03,635.17 L116.71,636.89 L117.37,638.51 L118.00,640.00 L118.60,641.36 L119.18,642.64 L119.76,643.85 L120.32,645.00 L120.88,646.11 L121.44,647.19 L122.01,648.25 L122.58,649.31 L123.16,650.38 L123.75,651.48 L124.37,652.61 L125.00,653.80 L125.65,655.03 L126.30,656.29 L126.97,657.57 L127.64,658.87 L128.32,660.18 L129.02,661.50 L129.73,662.82 L130.45,664.13 L131.19,665.42 L131.94,666.71 L132.71,667.97 L133.50,669.20 L134.30,670.40 L135.10,671.57 L135.91,672.72 L136.73,673.86 L137.56,674.98 L138.42,676.09 L139.30,677.21 L140.20,678.33 L141.14,679.47 L142.12,680.62 L143.14,681.80 L144.20,683.00 L145.32,684.24 L146.49,685.53 L147.72,686.85 L148.99,688.19 L150.28,689.54 L151.61,690.89 L152.95,692.24 L154.29,693.57 L155.64,694.87 L156.98,696.13 L158.30,697.34 L159.60,698.50 L160.92,699.63 L162.29,700.75 L163.69,701.86 L165.12,702.94 L166.54,704.01 L167.95,705.03 L169.32,706.01 L170.64,706.94 L171.88,707.82 L173.04,708.62 L174.08,709.35 L175.00,710.00 L175.75,710.54 L176.32,710.97 L176.75,711.30 L177.07,711.56 L177.31,711.76 L177.53,711.91 L177.73,712.05 L177.98,712.17 L178.29,712.32 L178.71,712.49 L179.27,712.71 L180.00,713.00 L180.92,713.35 L181.98,713.72 L183.16,714.13 L184.44,714.55 L185.79,714.99 L187.19,715.43 L188.60,715.87 L190.00,716.31 L191.37,716.74 L192.67,717.15 L193.89,717.54 L195.00,717.90 L195.98,718.23 L196.85,718.54 L197.65,718.83 L198.38,719.11 L199.08,719.38 L199.76,719.64 L200.46,719.90 L201.20,720.15 L202.00,720.41 L202.88,720.68 L203.87,720.96 L205.00,721.25 L206.23,721.56 L207.51,721.87 L208.84,722.20 L210.24,722.53 L211.70,722.87 L213.22,723.20 L214.81,723.54 L216.46,723.87 L218.18,724.19 L219.98,724.51 L221.85,724.81 L223.80,725.10 L225.86,725.38 L228.07,725.65 L230.39,725.91 L232.80,726.17 L235.28,726.42 L237.81,726.67 L240.36,726.90 L242.91,727.14 L245.45,727.36 L247.94,727.58 L250.36,727.79 L252.70,728.00 L254.90,728.20 L256.95,728.39 L258.91,728.57 L260.80,728.75 L262.67,728.92 L264.56,729.08 L266.51,729.24 L268.56,729.40 L270.75,729.55 L273.13,729.70 L275.73,729.85 L278.60,730.00 L281.90,730.15 L285.68,730.31 L289.85,730.47 L294.27,730.62 L298.83,730.78 L303.42,730.92 L307.92,731.07 L312.21,731.20 L316.18,731.32 L319.71,731.43 L322.69,731.52 L325.00,731.60" fill="none" stroke="#000" stroke-width="1.85" stroke-linejoin="round"/>
<rect x="83.5" y="442.1" width="434.9" height="289.69999999999993" fill="none" stroke="#000" stroke-width="1.85"/>
<line x1="73.9" x2="83.5" y1="731.80" y2="731.80" stroke="#000" stroke-width="1.85"/>
<text transform="translate(60.6 738.2) scale(1.072 1)" font-size="18.1" text-anchor="end" font-weight="normal">0</text>
<line x1="73.9" x2="83.5" y1="673.85" y2="673.85" stroke="#000" stroke-width="1.85"/>
<text transform="translate(58.9 680.25) scale(1.072 1)" font-size="18.1" text-anchor="end" font-weight="normal">25</text>
<line x1="73.9" x2="83.5" y1="615.90" y2="615.90" stroke="#000" stroke-width="1.85"/>
<text transform="translate(58.9 622.3) scale(1.072 1)" font-size="18.1" text-anchor="end" font-weight="normal">50</text>
<line x1="73.9" x2="83.5" y1="557.95" y2="557.95" stroke="#000" stroke-width="1.85"/>
<text transform="translate(58.9 564.35) scale(1.072 1)" font-size="18.1" text-anchor="end" font-weight="normal">75</text>
<line x1="73.9" x2="83.5" y1="500.00" y2="500.00" stroke="#000" stroke-width="1.85"/>
<text transform="translate(57.7 506.4) scale(1.072 1)" font-size="18.1" text-anchor="end" font-weight="normal">100</text>
<line y1="731.8" y2="740.6" x1="83.50" x2="83.50" stroke="#000" stroke-width="1.85"/>
<text transform="translate(77.6 762.1999999999999) scale(1.072 1)" font-size="18.1" text-anchor="middle" font-weight="normal">0</text>
<line y1="731.8" y2="740.6" x1="180.25" x2="180.25" stroke="#000" stroke-width="1.85"/>
<text transform="translate(174.35 762.1999999999999) scale(1.072 1)" font-size="18.1" text-anchor="middle" font-weight="normal">5</text>
<line y1="731.8" y2="740.6" x1="277.00" x2="277.00" stroke="#000" stroke-width="1.85"/>
<text transform="translate(270.2 762.1999999999999) scale(1.072 1)" font-size="18.1" text-anchor="middle" font-weight="normal">10</text>
<line y1="731.8" y2="740.6" x1="373.75" x2="373.75" stroke="#000" stroke-width="1.85"/>
<text transform="translate(366.95 762.1999999999999) scale(1.072 1)" font-size="18.1" text-anchor="middle" font-weight="normal">15</text>
<line y1="731.8" y2="740.6" x1="470.50" x2="470.50" stroke="#000" stroke-width="1.85"/>
<text transform="translate(463.7 762.1999999999999) scale(1.072 1)" font-size="18.1" text-anchor="middle" font-weight="normal">20</text>
<text transform="translate(289.0 792.8) scale(1.048 1)" font-size="19.3" text-anchor="middle" font-weight="normal">Time (min)</text>
<text transform="translate(16.1 611.8) rotate(-90) scale(1.083 1)" font-size="19.6" text-anchor="middle" font-weight="normal">rFVa activity (%)</text>
<text transform="translate(0.1 433.8) scale(1.0 1)" font-size="25" text-anchor="start" font-weight="bold">B</text>
<rect x="518.9" y="441.2" width="1.1" height="263" fill="#b4b4b4"/>
<rect x="517.5" y="703.6" width="2.5" height="29.1" fill="#000"/>
<circle cx="103.00" cy="548.70" r="5.95" fill="#000"/>
<circle cx="122.00" cy="588.00" r="5.95" fill="#000"/>
<circle cx="141.25" cy="608.75" r="5.95" fill="#000"/>
<circle cx="180.30" cy="657.70" r="5.95" fill="#000"/>
<circle cx="218.90" cy="666.80" r="5.95" fill="#000"/>
<circle cx="277.20" cy="690.50" r="5.95" fill="#000"/>
<circle cx="470.30" cy="711.00" r="5.95" fill="#000"/>
<circle cx="83.50" cy="500.00" r="6.2" fill="#fff" stroke="#000" stroke-width="1.5"/>
<circle cx="103.00" cy="604.30" r="6.2" fill="#fff" stroke="#000" stroke-width="1.5"/>
<circle cx="122.00" cy="660.50" r="6.2" fill="#fff" stroke="#000" stroke-width="1.5"/>
<circle cx="141.25" cy="676.25" r="6.2" fill="#fff" stroke="#000" stroke-width="1.5"/>
<circle cx="180.30" cy="704.10" r="6.2" fill="#fff" stroke="#000" stroke-width="1.5"/>
<circle cx="218.90" cy="702.00" r="6.2" fill="#fff" stroke="#000" stroke-width="1.5"/>
<circle cx="277.20" cy="706.90" r="6.2" fill="#fff" stroke="#000" stroke-width="1.5"/>
<circle cx="470.30" cy="721.50" r="6.2" fill="#fff" stroke="#000" stroke-width="1.5"/>
<polygon points="83.50,494.25 89.30,505.75 77.70,505.75" fill="#fff" stroke="#000" stroke-width="1.55" stroke-miterlimit="10"/>
<polygon points="180.00,529.25 185.80,540.75 174.20,540.75" fill="#fff" stroke="#000" stroke-width="1.55" stroke-miterlimit="10"/>
<polygon points="218.80,509.25 224.60,520.75 213.00,520.75" fill="#fff" stroke="#000" stroke-width="1.55" stroke-miterlimit="10"/>
<polygon points="277.00,527.35 282.80,538.85 271.20,538.85" fill="#fff" stroke="#000" stroke-width="1.55" stroke-miterlimit="10"/>
<polygon points="470.30,570.95 476.10,582.45 464.50,582.45" fill="#fff" stroke="#000" stroke-width="1.55" stroke-miterlimit="10"/>
<polygon points="83.30,505.65 89.10,494.15 77.50,494.15" fill="#fff" stroke="#000" stroke-width="1.55" stroke-miterlimit="10"/>
<polygon points="160.80,522.70 166.60,511.20 155.00,511.20" fill="#fff" stroke="#000" stroke-width="1.55" stroke-miterlimit="10"/>
<polygon points="248.50,552.55 254.30,541.05 242.70,541.05" fill="#fff" stroke="#000" stroke-width="1.55" stroke-miterlimit="10"/>
<polygon points="325.00,542.20 330.80,530.70 319.20,530.70" fill="#fff" stroke="#000" stroke-width="1.55" stroke-miterlimit="10"/>
<polygon points="470.30,563.35 476.10,551.85 464.50,551.85" fill="#fff" stroke="#000" stroke-width="1.55" stroke-miterlimit="10"/>
<circle cx="83.50" cy="500.00" r="5.95" fill="#000"/>
<polygon points="83.30,494.25 89.40,505.75 77.20,505.75" fill="#000"/>
<polygon points="102.70,487.05 108.80,498.55 96.60,498.55" fill="#000"/>
<polygon points="180.30,482.45 186.40,493.95 174.20,493.95" fill="#000"/>
<polygon points="218.75,492.00 224.85,503.50 212.65,503.50" fill="#000"/>
<polygon points="277.00,515.15 283.10,526.65 270.90,526.65" fill="#000"/>
<polygon points="470.00,496.15 476.10,507.65 463.90,507.65" fill="#000"/>
</svg>
</body></html>
